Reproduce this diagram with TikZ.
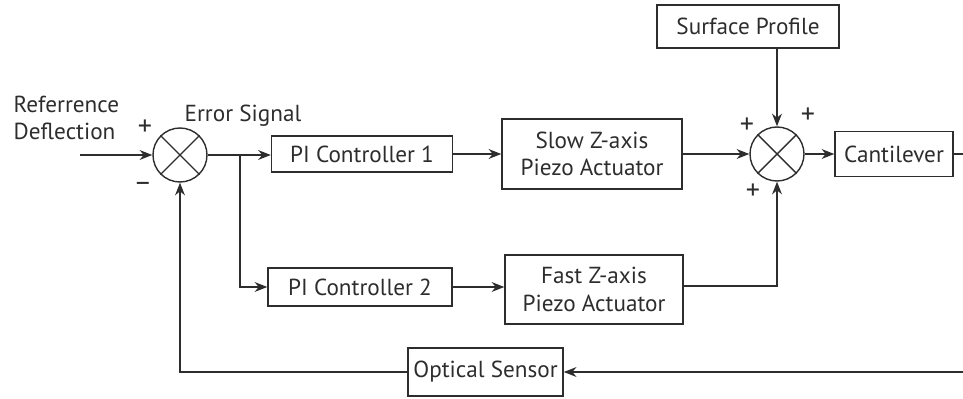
\documentclass[tikz,border=0pt]{standalone}
\usepackage{fontspec}
\setmainfont{PT Sans}
\usetikzlibrary{arrows.meta}
\definecolor{lineGray}{RGB}{45, 45, 45}

\begin{document}
\begin{tikzpicture}[
    font=\fontsize{16.5}{19.5}\selectfont, color=lineGray,
    block/.style={draw, line width=1pt, align=center, inner sep=0pt},
    sumj/.style={draw, circle, line width=1pt, minimum size=1.35cm, inner sep=0pt},
    sig/.style={line width=1pt, -{Stealth[length=9pt, width=7pt]}},
    wire/.style={line width=1pt},
    sgn/.style={inner sep=0pt, font=\fontsize{20}{20}\selectfont}
  ]
  \useasboundingbox (0,0) rectangle (24.075,9.95);
  \clip (0,0) rectangle (24.075,9.95);

  % Summing junctions
  \node[sumj] (s1) at (4.5,6.075) {};
  \draw[line width=1pt] (s1.north west) -- (s1.south east) (s1.north east) -- (s1.south west);
  \node[sumj] (s2) at (19.425,6.1) {};
  \draw[line width=1pt] (s2.north west) -- (s2.south east) (s2.north east) -- (s2.south west);

  % Blocks
  \node[block, minimum width=4.525cm, minimum height=0.9cm] (pi1) at (9.05,6.1) {PI Controller 1};
  \node[block, minimum width=4.5cm, minimum height=1.75cm] (slow) at (14.8,6.1) {Slow Z-axis\\ Piezo Actuator};
  \node[block, minimum width=4.6cm, minimum height=0.95cm] (pi2) at (9.0,2.775) {PI Controller 2};
  \node[block, minimum width=4.45cm, minimum height=1.725cm] (fast) at (14.85,2.71) {Fast Z-axis\\ Piezo Actuator};
  \node[block, minimum width=4.55cm, minimum height=1.075cm] (surf) at (18.7,9.29) {Surface Profile};
  \node[block, minimum width=2.95cm, minimum height=1.125cm] (cant) at (22.35,6.1) {Cantilever};
  \node[block, minimum width=3.875cm, minimum height=1.2cm] (opt) at (12.14,0.65) {Optical Sensor};

  % Labels
  \node[align=left, inner sep=0pt] (ref) at (1.66,7.0) {Referrence\\Deflection};
  \node[inner sep=0pt] (err) at (6.075,7.05) {Error Signal};
  \node[sgn] (p1) at (3.625,6.75) {+};
  \node[sgn] (m1) at (3.575,5.28) {\char"2013};
  \node[sgn] (p2) at (18.675,6.8) {+};
  \node[sgn] (p3) at (20.2,7.05) {+};
  \node[sgn] (p4) at (18.825,5.15) {+};

  % Forward path
  \coordinate (in) at (2.0,6.075);
  \coordinate (br) at (6.0,6.075);
  \draw[sig] (in) -- (s1);
  \draw[wire] (s1) -- (br);
  \draw[sig] (br) -- (pi1.west |- br);
  \draw[sig] (br) |- (pi2);
  \draw[sig] (pi1) -- (slow);
  \draw[sig] (pi2) -- (pi2 -| fast.west);
  \draw[sig] (slow) -- (s2);
  \draw[sig] (fast.east |- 0,2.8) -| (s2);
  \draw[sig] (s2 |- surf.south) -- (s2);
  \draw[sig] (s2) -- (cant);

  % Feedback
  \draw[sig] (cant.east) -- (24.5,6.1) |- (opt);
  \draw[sig] (opt) -| (s1);
\end{tikzpicture}
\end{document}
